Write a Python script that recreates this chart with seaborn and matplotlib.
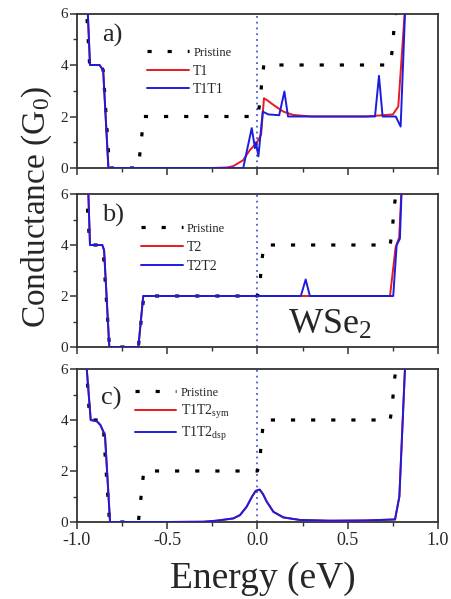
import numpy as np
import pandas as pd
import matplotlib
matplotlib.use("Agg")
import matplotlib.pyplot as plt
from matplotlib.ticker import MultipleLocator
import seaborn as sns

# ---------------- data ----------------
pristine_x = [-0.96, -0.946, -0.93, -0.87, -0.855, -0.82, -0.66, -0.63, 0.0, 0.015, 0.023, 0.035, 0.735, 0.747, 0.756, 0.775]
pristine_y = [7.0, 6.0, 4.0, 4.0, 3.8, 0.0, 0.0, 2.0, 2.0, 2.6, 3.3, 4.0, 4.0, 4.6, 5.4, 6.5]

t1_x = [-0.96, -0.94, -0.928, -0.875, -0.855, -0.826, -0.4, -0.25, -0.17, -0.135, -0.08, -0.042, -0.005, 0.02, 0.036, 0.06, 0.088, 0.143, 0.198, 0.3, 0.6, 0.75, 0.78, 0.82]
t1_y = [7.0, 6.0, 4.0, 4.0, 3.8, 0.0, 0.0, 0.0, 0.02, 0.07, 0.3, 0.7, 0.97, 1.3, 2.71, 2.6, 2.45, 2.19, 2.06, 2.0, 2.0, 2.08, 2.39, 6.5]

t1t1_x = [-0.96, -0.94, -0.928, -0.875, -0.855, -0.826, -0.079, -0.032, -0.014, -0.008, 0.005, 0.029, 0.06, 0.12, 0.149, 0.169, 0.5, 0.651, 0.673, 0.693, 0.766, 0.793, 0.82]
t1t1_y = [7.0, 6.0, 4.0, 4.0, 3.8, 0.0, 0.0, 1.55, 0.77, 1.0, 0.45, 2.19, 2.08, 2.05, 2.97, 2.0, 2.0, 2.0, 3.58, 2.0, 2.0, 1.61, 6.5]

t2_x = [-0.96, -0.937, -0.928, -0.86, -0.85, -0.821, -0.66, -0.633, 0.0, 0.734, 0.765, 0.785, 0.80]
t2_y = [7.0, 6.0, 4.0, 4.0, 3.8, 0.0, 0.0, 2.0, 2.0, 2.0, 3.9, 4.3, 6.5]

t2t2_x = [-0.96, -0.937, -0.928, -0.86, -0.85, -0.821, -0.66, -0.633, 0.24, 0.267, 0.29, 0.752, 0.771, 0.789, 0.80]
t2t2_y = [7.0, 6.0, 4.0, 4.0, 3.8, 0.0, 0.0, 2.0, 2.0, 2.65, 2.0, 2.0, 4.0, 4.25, 6.5]

t1t2sym_x = [-0.96, -0.946, -0.924, -0.89, -0.87, -0.845, -0.817, -0.5, -0.3, -0.23, -0.134, -0.097, -0.06, -0.03, -0.01, 0.012, 0.03, 0.051, 0.088, 0.143, 0.235, 0.4, 0.6, 0.762, 0.786, 0.82]
t1t2sym_y = [7.0, 6.0, 4.0, 3.95, 3.8, 3.4, 0.0, 0.0, 0.01, 0.05, 0.14, 0.27, 0.6, 1.0, 1.22, 1.27, 1.1, 0.8, 0.4, 0.18, 0.08, 0.05, 0.06, 0.1, 1.0, 6.5]

t1t2dsp_x = [-0.96, -0.946, -0.924, -0.89, -0.87, -0.845, -0.817, -0.5, -0.3, -0.23, -0.134, -0.097, -0.06, -0.03, -0.01, 0.012, 0.03, 0.051, 0.088, 0.143, 0.235, 0.4, 0.6, 0.762, 0.786, 0.82]
t1t2dsp_y = [7.0, 6.0, 4.0, 3.95, 3.8, 3.4, 0.0, 0.0, 0.01, 0.05, 0.14, 0.27, 0.6, 1.0, 1.22, 1.27, 1.1, 0.8, 0.4, 0.18, 0.08, 0.05, 0.06, 0.1, 1.0, 6.5]

panel_labels = ["a)", "b)", "c)"]
series_labels = [("T1", "T1T1"), ("T2", "T2T2"),
                 ("T1T2$_{\\rm sym}$", "T1T2$_{\\rm dsp}$")]
x_ticks = [-1.0, -0.5, 0.0, 0.5, 1.0]
y_ticks = [0, 2, 4, 6]

# ---------------- style ----------------
sns.set_theme(style="ticks")
plt.rcParams['font.family'] = ['Liberation Serif', 'DejaVu Serif']
plt.rcParams['mathtext.fontset'] = 'custom'
plt.rcParams['mathtext.rm'] = 'Liberation Serif'
plt.rcParams['mathtext.it'] = 'Liberation Serif:italic'

RED = '#e8191f'
BLUE = '#1c1ce0'
SPINE = '#333333'

fig = plt.figure(figsize=(4.52, 5.99), dpi=100)
L, W = 77 / 452, 361 / 452
boxes = [(13.5, 168), (194, 347), (369, 522)]
axes = []
for top, bot in boxes:
    ax = fig.add_axes([L, 1 - bot / 599, W, (bot - top) / 599])
    axes.append(ax)

pairs = [((t1_x, t1_y), (t1t1_x, t1t1_y)),
         ((t2_x, t2_y), (t2t2_x, t2t2_y)),
         ((t1t2sym_x, t1t2sym_y), (t1t2dsp_x, t1t2dsp_y))]

leg_anchor = [(0.195, 0.79), (0.178, 0.815), (0.16, 0.89)]
leg_spacing = [0.42, 0.42, 0.30]
lab_pos = [(0.07, 0.86), (0.07, 0.86), (0.066, 0.81)]

for i, ax in enumerate(axes):
    (rx, ry), (bx, by) = pairs[i]
    ax.axvline(0.0, color='#4a5ad0', lw=1.3, ls=(0, (1, 2.2)), zorder=1)
    dfp = pd.DataFrame({"E": pristine_x, "G": pristine_y})
    sns.lineplot(data=dfp, x="E", y="G", ax=ax, color='black', lw=2.3,
                 ls=(0, (1.3, 5.0)), label="Pristine", estimator=None,
                 sort=False, zorder=2)
    dfr = pd.DataFrame({"E": rx, "G": ry})
    sns.lineplot(data=dfr, x="E", y="G", ax=ax, color=RED, lw=1.4,
                 label=series_labels[i][0], estimator=None, sort=False, zorder=3)
    dfb = pd.DataFrame({"E": bx, "G": by})
    sns.lineplot(data=dfb, x="E", y="G", ax=ax, color=BLUE, lw=1.4,
                 label=series_labels[i][1], estimator=None, sort=False, zorder=4)

    ax.set_xlim(-1.0, 1.0)
    ax.set_ylim(0, 6)
    ax.set_xticks(x_ticks)
    ax.set_yticks(y_ticks)
    ax.xaxis.set_minor_locator(MultipleLocator(0.25))
    ax.yaxis.set_minor_locator(MultipleLocator(1))
    ax.tick_params(which='major', direction='out', length=5, width=1.1,
                   color=SPINE, labelsize=11, pad=1.5, top=False, right=False)
    ax.tick_params(which='minor', direction='out', length=3, width=1.0,
                   color=SPINE, top=False, right=False)
    ax.tick_params(axis='x', labelsize=13, pad=2)
    for s in ax.spines.values():
        s.set_color(SPINE)
        s.set_linewidth(1.3)
    ax.set_xlabel("")
    ax.set_ylabel("")
    if i < 2:
        ax.set_xticklabels([])
    else:
        ax.set_xticklabels([f"{t:.1f}" for t in x_ticks])
    ax.set_yticklabels([str(t) for t in y_ticks])

    leg = ax.legend(loc='upper left', bbox_to_anchor=leg_anchor[i],
                    frameon=False, fontsize=10, handlelength=3.0,
                    handletextpad=0.3, labelspacing=leg_spacing[i], borderpad=0,
                    borderaxespad=0)
    for t in leg.get_texts()[:1]:
        t.set_fontsize(9)
    ax.text(lab_pos[i][0], lab_pos[i][1], panel_labels[i], transform=ax.transAxes,
            fontsize=19, ha='left', va='center')

axes[1].text(0.70, 0.14, "WSe$_2$", transform=axes[1].transAxes,
             fontsize=26, ha='center', va='center')

fig.text(37 / 452, 1 - 207 / 599, "Conductance (G$_0$)", rotation=90,
         fontsize=24, ha='center', va='center')
fig.text(263 / 452, 1 - 579 / 599, "Energy (eV)", fontsize=27,
         ha='center', va='center')

fig.savefig("out.png", dpi=100)
